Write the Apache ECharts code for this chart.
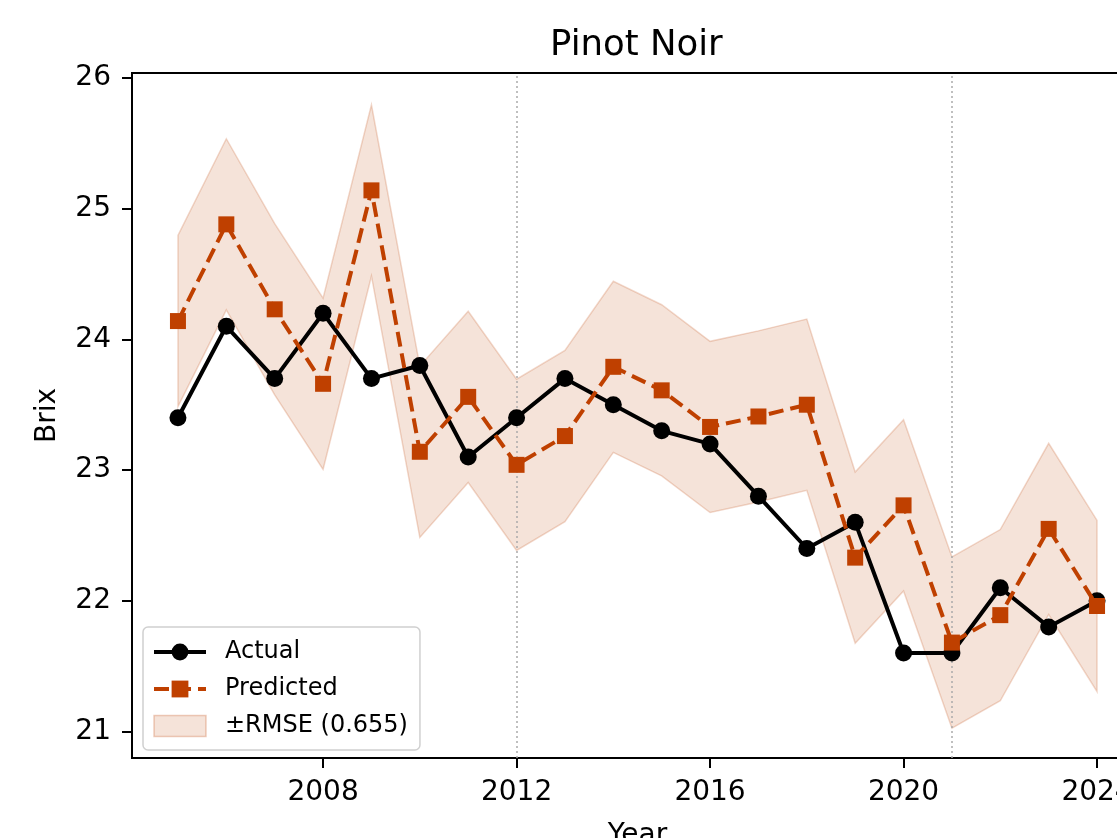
<!DOCTYPE html>
<html>
<head>
<meta charset="utf-8">
<script src="https://cdn.jsdelivr.net/npm/echarts@6/dist/echarts.min.js"></script>
<style>
html,body{margin:0;padding:0;background:#fff;overflow:hidden;}
#chart{width:1160px;height:870px;}
</style>
</head>
<body>
<div id="chart"></div>
<script>
const years = [2005,2006,2007,2008,2009,2010,2011,2012,2013,2014,2015,2016,2017,2018,2019,2020,2021,2022,2023,2024];
const actual = [23.4,24.1,23.7,24.2,23.7,23.8,23.1,23.4,23.7,23.5,23.3,23.2,22.8,22.4,22.6,21.6,21.6,22.1,21.8,22.0];
const predicted = [24.14,24.88,24.23,23.66,25.14,23.14,23.56,23.04,23.26,23.79,23.61,23.33,23.41,23.50,22.33,22.73,21.68,21.89,22.55,21.96];
const rmse = 0.655;
const splitYears = [2012, 2021];
const xTicks = [2008, 2012, 2016, 2020, 2024];
const yTicks = [21, 22, 23, 24, 25, 26];
const chartTitle = 'Pinot Noir';
const xName = 'Year';
const yName = 'Brix';
const nameActual = 'Actual';
const namePred = 'Predicted';
const nameBand = '±RMSE (0.655)';

const upper = predicted.map(v => v + rmse);
const lower = predicted.map(v => v - rmse);
const FONT = 'DejaVu Sans';
const RED = '#bf4000';

const chart = echarts.init(document.getElementById('chart'), null, {renderer: 'canvas'});

const option = {
  animation: false,
  backgroundColor: '#fff',
  textStyle: {fontFamily: FONT, color: '#000'},
  title: {
    text: chartTitle,
    left: 550, top: 28, padding: 0,
    textStyle: {fontFamily: FONT, fontSize: 35.5, fontWeight: 'normal', color: '#000'}
  },
  grid: {
    left: 132, top: 73, width: 1011, height: 685,
    show: true, borderColor: '#000', borderWidth: 2, backgroundColor: 'transparent'
  },
  legend: {
    orient: 'vertical',
    left: 143, top: 627,
    padding: [13, 12, 12, 9],
    itemWidth: 52, itemHeight: 21, itemGap: 13,
    backgroundColor: 'rgba(255,255,255,0.8)',
    borderColor: '#d0d0d0', borderWidth: 1.5, borderRadius: 5,
    lineStyle: {width: 4},
    textStyle: {fontFamily: FONT, fontSize: 24, color: '#000', padding: [0, 0, 0, 14]},
    data: [
      {name: nameActual},
      {name: namePred},
      {name: nameBand, icon: 'rect', itemStyle: {color: 'rgba(191,64,0,0.15)', borderColor: 'rgba(191,64,0,0.25)', borderWidth: 1.5}}
    ]
  },
  xAxis: {
    type: 'value', min: 2004.05, max: 2024.95,
    name: xName, nameLocation: 'middle', nameGap: 64,
    nameTextStyle: {fontFamily: FONT, fontSize: 28, color: '#000', verticalAlign: 'top'},
    axisLine: {show: true, lineStyle: {color: '#000', width: 2}},
    axisTick: {show: true, length: 10, lineStyle: {color: '#000', width: 2}, customValues: xTicks},
    axisLabel: {show: true, margin: 21, fontFamily: FONT, fontSize: 28, color: '#000', customValues: xTicks,
      formatter: v => String(v)},
    splitLine: {show: false}
  },
  yAxis: {
    type: 'value', min: 20.797, max: 26.038,
    name: yName, nameLocation: 'middle', nameGap: 70, nameRotate: 90,
    nameTextStyle: {fontFamily: FONT, fontSize: 28, color: '#000'},
    axisLine: {show: true, lineStyle: {color: '#000', width: 2}},
    axisTick: {show: true, length: 10, lineStyle: {color: '#000', width: 2}, customValues: yTicks},
    axisLabel: {show: true, margin: 21, fontFamily: FONT, fontSize: 28, color: '#000', customValues: yTicks,
      formatter: v => String(v)},
    splitLine: {show: false}
  },
  series: [
    {
      name: nameBand,
      type: 'custom',
      z: 1,
      itemStyle: {color: 'rgba(191,64,0,0.15)'},
      data: years.map((y, i) => [y, lower[i], upper[i]]),
      encode: {x: 0, y: [1, 2]},
      renderItem: function (params, api) {
        if (params.dataIndex !== 0) return null;
        const top = years.map((y, i) => api.coord([y, upper[i]]));
        const bot = years.map((y, i) => api.coord([y, lower[i]]));
        const poly = top.concat(bot.slice().reverse());
        return {
          type: 'polygon',
          shape: {points: poly},
          style: {fill: 'rgba(191,64,0,0.15)', stroke: 'rgba(191,64,0,0.2)', lineWidth: 1.5}
        };
      }
    },
    {
      name: nameActual,
      type: 'line',
      z: 3,
      data: years.map((y, i) => [y, actual[i]]),
      symbol: 'circle', symbolSize: 17,
      lineStyle: {color: '#000', width: 4},
      itemStyle: {color: '#000'},
      markLine: {
        silent: true, z: 1.5, symbol: 'none',
        label: {show: false},
        lineStyle: {color: '#aaaaaa', type: [2, 3], width: 1.5},
        data: splitYears.map(v => ({xAxis: v}))
      }
    },
    {
      name: namePred,
      type: 'line',
      z: 4,
      data: years.map((y, i) => [y, predicted[i]]),
      symbol: 'rect', symbolSize: 16,
      lineStyle: {color: RED, width: 4, type: [15, 7]},
      itemStyle: {color: RED}
    }
  ]
};
chart.setOption(option);
</script>
</body>
</html>
